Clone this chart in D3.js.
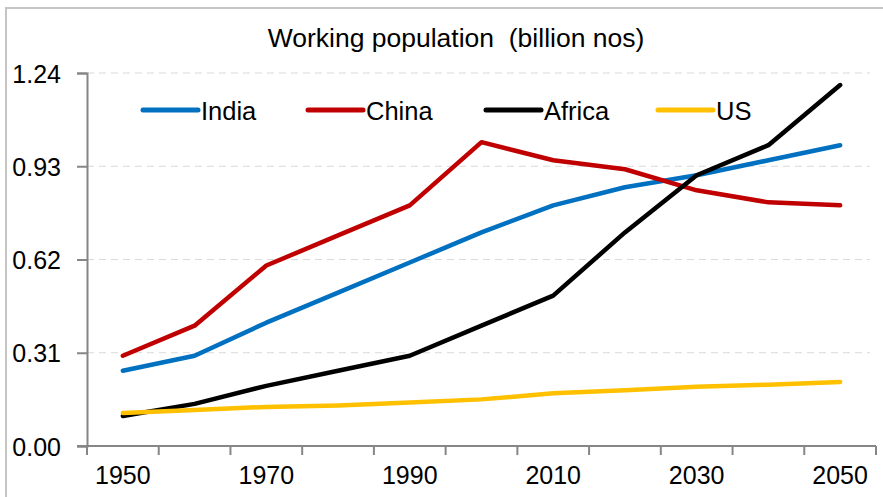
<!DOCTYPE html>
<html>
<head>
<meta charset="utf-8">
<script src="https://cdn.jsdelivr.net/npm/d3@7"></script>
<style>
  html, body { margin: 0; padding: 0; background: #fff; }
  svg { display: block; font-family: "Liberation Sans", Arial, sans-serif; }
</style>
</head>
<body>
<svg id="chart" width="883" height="497"></svg>
<script>
const years = [1950, 1960, 1970, 1980, 1990, 2000, 2010, 2020, 2030, 2040, 2050];
const xTickLabels = [1950, 1970, 1990, 2010, 2030, 2050];
const yTicks = [0, 0.31, 0.62, 0.93, 1.24];
const seriesNames = ["India", "China", "Africa", "US"];
const india  = [0.25, 0.30, 0.41, 0.51, 0.61, 0.71, 0.80, 0.86, 0.90, 0.95, 1.00];
const china  = [0.30, 0.40, 0.60, 0.70, 0.80, 1.01, 0.95, 0.92, 0.85, 0.81, 0.80];
const africa = [0.10, 0.14, 0.20, 0.25, 0.30, 0.40, 0.50, 0.71, 0.90, 1.00, 1.20];
const us     = [0.11, 0.12, 0.13, 0.135, 0.145, 0.155, 0.175, 0.185, 0.197, 0.204, 0.213];
const seriesColors = ["#0070C0", "#C00000", "#000000", "#FFC000"];
const titleText = "Working population  (billion nos)";

const seriesData = [india, china, africa, us];

const svg = d3.select("#chart");
const plotLeft = 87, plotRight = 876, plotTop = 73, plotBottom = 446;

// frame
svg.append("rect").attr("x", 6).attr("y", 8).attr("width", 900).attr("height", 520)
  .attr("fill", "none").attr("stroke", "#c4c4c4").attr("stroke-width", 2);

const x = d3.scaleBand().domain(years).range([plotLeft, plotRight]).padding(0);
const y = d3.scaleLinear().domain([0, 1.24]).range([plotBottom, plotTop]);

// gridlines
svg.append("g").selectAll("line").data(yTicks.filter(d => d > 0)).join("line")
  .attr("x1", plotLeft).attr("x2", 870)
  .attr("y1", d => y(d)).attr("y2", d => y(d))
  .attr("stroke", "#d9d9d9").attr("stroke-width", 1).attr("stroke-dasharray", "7,5");

// y axis
const yAxis = svg.append("g").attr("transform", `translate(${plotLeft},0)`)
  .call(d3.axisLeft(y).tickValues(yTicks).tickFormat(d3.format(".2f")).tickSize(10).tickPadding(16));
yAxis.select(".domain").attr("stroke", "#868686").attr("stroke-width", 2);
yAxis.selectAll(".tick line").attr("stroke", "#868686").attr("stroke-width", 2);
yAxis.selectAll(".tick text").attr("font-size", 25).attr("fill", "#000")
  .attr("font-family", "'Liberation Sans', Arial, sans-serif").attr("dy", "0.36em");

// x axis
const xAxisG = svg.append("g").attr("transform", `translate(0,${plotBottom})`);
xAxisG.append("line").attr("x1", plotLeft - 10).attr("x2", plotRight)
  .attr("stroke", "#868686").attr("stroke-width", 2);
const boundaries = years.map(d => x(d)).concat([x(years[years.length - 1]) + x.bandwidth()]);
xAxisG.selectAll("line.tk").data(boundaries).join("line").attr("class", "tk")
  .attr("x1", d => d).attr("x2", d => d).attr("y1", 0).attr("y2", 9)
  .attr("stroke", "#868686").attr("stroke-width", 2);
xAxisG.selectAll("text").data(xTickLabels).join("text")
  .attr("x", d => x(d) + x.bandwidth() / 2).attr("y", 38)
  .attr("text-anchor", "middle").attr("font-size", 25).attr("fill", "#000")
  .text(d => d);

// lines
const line = d3.line().x((d, i) => x(years[i]) + x.bandwidth() / 2).y(d => y(d));
svg.append("g").selectAll("path").data(seriesData).join("path")
  .attr("d", d => line(d)).attr("fill", "none")
  .attr("stroke", (d, i) => seriesColors[i]).attr("stroke-width", 4.5)
  .attr("stroke-linejoin", "round").attr("stroke-linecap", "round");

// title
svg.append("text").attr("x", 456).attr("y", 47).attr("text-anchor", "middle")
  .style("white-space", "pre").attr("xml:space", "preserve")
  .attr("font-size", 26.5).attr("fill", "#000").text(titleText);

// legend
const legendX = [143, 308, 486, 658];
const lg = svg.append("g").selectAll("g").data(seriesNames).join("g")
  .attr("transform", (d, i) => `translate(${legendX[i]},110)`);
lg.append("line").attr("x1", 0).attr("x2", 55).attr("y1", 0).attr("y2", 0)
  .attr("stroke", (d, i) => seriesColors[i]).attr("stroke-width", 5).attr("stroke-linecap", "round");
lg.append("text").attr("x", 58).attr("y", 10).attr("font-size", 25.5).attr("fill", "#000").text(d => d);
</script>
</body>
</html>
